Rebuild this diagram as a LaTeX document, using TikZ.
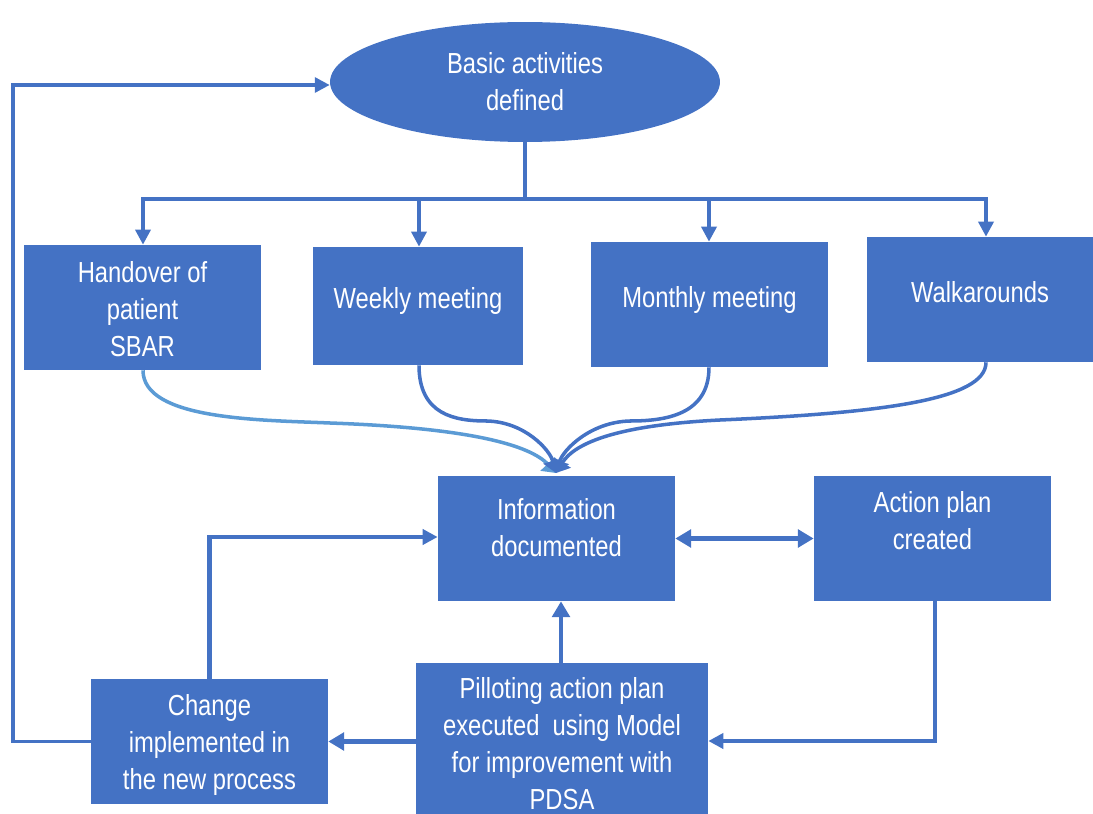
\documentclass[tikz,border=0pt]{standalone}
\usepackage{fontspec}
\setmainfont{Liberation Sans}[FakeStretch=0.82]
\usetikzlibrary{arrows.meta,shapes.geometric}
\definecolor{mblue}{HTML}{4472C4}
\definecolor{lblue}{HTML}{5B9BD5}
\begin{document}
\begin{tikzpicture}[x=0.02cm,y=-0.02cm,
  txt/.style={font=\fontsize{16.5pt}{21pt}\selectfont, text=white, align=center},
  box/.style={txt, rectangle, fill=mblue, draw=none, inner sep=0pt,
              minimum width=4.74cm, minimum height=2.5cm},
  conn/.style={draw=mblue, line width=2pt, -{Triangle[length=8.5pt,width=8.5pt]}},
  thick conn/.style={draw=mblue, line width=2.7pt, -{Triangle[length=9pt,width=10pt]}},
  merge/.style={line width=2pt, -{Triangle[length=7pt,width=11pt]}}
]
\useasboundingbox (0,0) rectangle (1093,814);

% top ellipse
\node[txt, ellipse, fill=mblue, inner sep=0pt, minimum width=7.8cm, minimum height=2.4cm]
  (ell) at (525,82) {Basic activities\\defined};

% activity boxes
\node[box] (hand) at (142.5,307.5) {\mbox{}\\[-6.9pt]Handover of\\patient\\SBAR};
\node[box, minimum width=4.2cm, minimum height=2.36cm] (week) at (418,306) {Weekly meeting\\[-12pt]\mbox{}};
\node[box] (month) at (709.5,304.5) {Monthly meeting\\[-12pt]\mbox{}};
\node[box, minimum width=4.52cm] (walk) at (980,299.5) {Walkarounds\\[-12pt]\mbox{}};

% middle row
\node[box] (info) at (556.5,538.5) {Information\\documented\\[-8pt]\mbox{}};
\node[box] (act) at (932.5,538.5) {Action plan\\created\\\mbox{}};

% bottom row
\node[box, minimum width=5.84cm, minimum height=3.02cm] (pil) at (562,738.5)
  {\mbox{}\\[-3.5pt]Pilloting action plan\\executed\ \ using Model\\for improvement with\\PDSA};
\node[box] (chg) at (209.5,741.5) {\mbox{}\\[-4.7pt]Change\\implemented in\\the new process};

% branching from the ellipse
\coordinate (fork) at (525,199);
\draw[mblue, line width=2pt] (ell.south) -- (fork);
\draw[conn] (fork) -| (hand.north -| 143,0);
\draw[conn] (fork) -| (week.north -| 419,0);
\draw[conn] (fork) -| (month.north -| 709,0);
\draw[conn] (fork) -| (walk.north -| 986,0);

% curved connectors merging into the information box
\coordinate (mtip) at (556,473);
\draw[merge, draw=lblue] (hand.south -| 143,0) .. controls (143,420) and (260,420) .. (330,423)
  .. controls (470,428) and (530,445) .. (mtip);
\draw[merge, draw=mblue] (week.south -| 419,0) .. controls (419,415) and (455,421) .. (487,421)
  .. controls (525,422) and (550,450) .. (mtip);
\draw[merge, draw=mblue] (month.south -| 709,0) .. controls (709,415) and (665,421) .. (630,421)
  .. controls (590,422) and (563,450) .. (mtip);
\draw[merge, draw=mblue] (walk.south -| 986,0) .. controls (986,400) and (880,413) .. (720,420)
  .. controls (620,425) and (575,442) .. (mtip);

% information <-> action plan
\draw[thick conn, {Triangle[length=9pt,width=10pt]}-{Triangle[length=9pt,width=10pt]}]
  (info.east) -- (act.west);

% action plan -> piloting
\draw[conn, line width=2.3pt] (act.south -| 935,0) |- (pil.east |- 0,741);

% piloting -> information
\draw[thick conn] (pil.north -| 561,0) -- (info.south -| 561,0);

% piloting -> change
\draw[thick conn] (pil.west |- chg.east) -- (chg.east);

% change -> information
\draw[conn, line width=2.3pt] (chg.north) |- (info.west |- 0,537);

% change -> back to the basic activities
\coordinate (loopx) at (13,0);
\draw[conn] (chg.west) -- (chg.west -| loopx) |- (ell.west |- 0,85);
\end{tikzpicture}
\end{document}
